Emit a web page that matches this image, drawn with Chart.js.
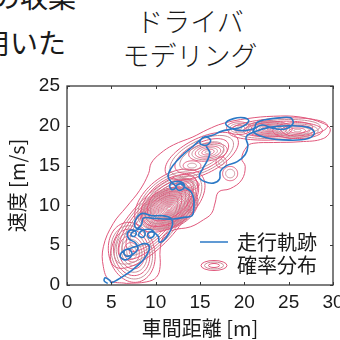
<!DOCTYPE html>
<html>
<head>
<meta charset="utf-8">
<script src="https://cdn.jsdelivr.net/npm/chart.js@4.4.0/dist/chart.umd.min.js"></script>
<style>
  html, body { margin: 0; padding: 0; width: 340px; height: 340px; overflow: hidden; background: #fff; }
  #wrap { position: absolute; left: 0; top: 0; width: 360px; height: 340px; }
  .jp { position: absolute; font-family: "Noto Sans CJK JP", sans-serif; color: #1a1a1a; white-space: nowrap; }
</style>
</head>
<body>
<div class="jp" style="left:-8px; top:-27px; font-size:28px; line-height:46px;">の収集</div>
<div class="jp" style="left:-18px; top:19px; font-size:28px; line-height:46px;">用いた</div>
<div class="jp" style="left:90px; top:4px; width:200px; text-align:center; font-size:27px; line-height:34px; font-weight:300;">ドライバ<br>モデリング</div>
<div id="wrap"><canvas id="chart" width="360" height="340"></canvas></div>
<script>
const xTicks = [0, 5, 10, 15, 20, 25, 30];
const yTicks = [0, 5, 10, 15, 20, 25];
const xTitle = '車間距離 [m]';
const yTitle = '速度 [m/s]';
const legendLabels = ['走行軌跡', '確率分布'];

// driving trajectory (gap [m], speed [m/s])
const trackX = [4.6, 4.2, 4.3, 4.8, 5.0, 5.6, 6.5, 7.5, 8.4, 9.0, 9.3,
  8.8, 7.9, 7.1, 6.4, 6.0, 6.2, 6.8, 7.3, 7.2, 6.7, 6.4, 6.8, 7.5, 8.0, 7.7,
  7.0, 6.8, 7.3, 7.8, 7.6, 7.2, 7.6, 8.3, 8.8, 8.6, 8.1, 8.4, 9.1, 9.7, 9.8, 9.3, 9.1, 9.6, 10.3, 10.4, 10.9, 11.5, 11.9, 11.7, 10.8, 9.6, 8.5, 7.9, 7.6, 7.9, 8.4, 8.6, 9.5,
  10.8, 12.0, 13.2, 14.1, 14.3, 14.3, 14.0,
  13.4, 12.8, 12.3, 12.6, 13.2, 13.1, 12.3, 11.6, 11.8, 12.3, 11.8, 11.4, 11.7, 12.4, 13.3, 14.2, 15.0,
  15.6, 16.2, 15.8, 15.0, 15.3, 16.4, 17.4, 18.6,
  19.6, 20.5, 20.0, 18.8, 17.9, 18.7, 20.0, 21.1, 21.4, 22.5, 24.0, 25.2, 25.5, 24.6, 23.2, 22.0, 21.0, 22.5, 25.0, 27.2, 27.9, 27.2, 25.0, 22.8, 21.0, 20.2,
  20.4, 20.1, 19.2, 18.0, 17.3, 17.2, 16.5, 15.5, 14.9, 15.3, 15.8, 16.1, 15.7];
const trackY = [0.2, 0.5, 0.9, 0.6, 0.3, 0.6, 1.2, 2.0, 2.9, 3.8, 4.8,
  5.2, 4.9, 4.6, 4.3, 3.8, 3.3, 3.2, 3.7, 4.3, 4.5, 4.0, 3.6, 3.9, 4.6, 5.3,
  5.8, 6.5, 6.9, 6.6, 6.1, 6.3, 6.8, 7.0, 6.6, 6.0, 6.2, 6.8, 7.0, 6.8, 6.2, 5.9, 6.4, 6.7, 6.1, 5.4, 5.6, 6.5, 7.6, 8.4, 8.7, 8.7, 9.0, 8.5, 7.6, 7.1, 7.6, 8.4, 8.4,
  8.3, 8.3, 8.5, 8.7, 9.6, 10.8, 11.7,
  12.2, 12.7, 12.4, 11.9, 12.2, 12.8, 13.0, 12.6, 12.0, 12.3, 12.9, 13.6, 14.6, 15.6, 16.6, 17.4, 18.2,
  18.6, 18.2, 17.6, 17.8, 18.5, 18.8, 19.3, 19.6,
  19.8, 20.6, 21.0, 20.9, 20.3, 19.6, 19.4, 19.7, 20.4, 20.8, 21.0, 21.0, 20.3, 19.6, 19.7, 20.1, 19.3, 18.5, 18.2, 18.4, 19.1, 19.8, 20.0, 19.8, 19.2, 18.6,
  17.5, 16.4, 15.5, 15.0, 14.3, 13.3, 12.8, 13.0, 13.6, 14.6, 15.6, 16.6, 17.4];

// outermost density contour
const envelopeX = [6.7, 4.8, 4.1, 4.1, 5.2, 6.7, 8.2, 9.2, 9.5, 10.5, 12.0, 14.2, 15.8, 17.6, 20.3, 23.3, 26.3, 28.9, 29.7, 28.9, 26.3, 23.3, 21.0, 20.3, 19.7, 20.1, 19.7, 18.4, 17.1, 16.7, 16.3, 15.4, 13.9, 12.0, 10.9, 10.5, 10.5, 10.1, 9.0, 6.7];
const envelopeY = [0.2, 0.6, 2.3, 4.8, 7.7, 9.8, 11.9, 14.0, 15.3, 16.5, 17.6, 18.6, 19.5, 20.3, 20.9, 21.2, 21.1, 20.3, 19.5, 18.4, 18.0, 17.9, 17.8, 17.4, 15.9, 14.9, 13.2, 12.1, 11.7, 10.3, 9.0, 8.2, 7.3, 6.9, 6.1, 4.4, 2.3, 1.0, 0.4, 0.2];

// inner contour groups: centre, semi-axes (data units), tilt, ring count, innermost ring scale
const blobX = [7.3, 9.8, 11.5, 11.6, 13.6, 15.9, 15.2, 23.8, 22.8, 26.0, 19.4, 18.4, 17.4, 14.1];
const blobY = [4.1, 8.0, 9.6, 10.6, 12.6, 16.7, 16.2, 19.6, 19.6, 19.4, 19.7, 14.0, 15.4, 15.0];
const blobRx = [2.6, 7.2, 3.5, 4.8, 1.3, 2.2, 4.6, 5.6, 2.6, 2.8, 1.4, 0.85, 0.6, 1.0];
const blobRy = [3.8, 2.7, 2.4, 2.9, 0.7, 1.1, 2.2, 1.35, 1.0, 1.0, 0.8, 0.9, 0.7, 0.6];
const blobAngle = [10, 52, 30, 45, 0, 10, 30, 4, 0, 0, 0, 0, 0, 0];
const blobRings = [9, 6, 22, 6, 4, 6, 4, 3, 9, 6, 4, 2, 2, 2];
const blobInner = [0.1, 0.55, 0.05, 0.55, 0.3, 0.15, 0.6, 0.7, 0.1, 0.15, 0.2, 0.6, 0.5, 0.5];

const PINK = 'rgb(224, 88, 124)';
const PINK_GRAY = 'rgb(200, 140, 152)';
const BLUE = 'rgb(43, 121, 198)';
const TEXT = '#1a1a1a';

function toPoints(xs, ys) {
  return xs.map((v, i) => ({ x: v, y: ys[i] }));
}

const contourPlugin = {
  id: 'contours',
  beforeDatasetsDraw(chart) {
    const { ctx, chartArea, scales: { x, y } } = chart;
    ctx.save();
    ctx.beginPath();
    ctx.rect(chartArea.left, chartArea.top, chartArea.width, chartArea.height);
    ctx.clip();
    ctx.lineWidth = 1;
    blobX.forEach((cx, i) => {
      const n = blobRings[i];
      const a = blobAngle[i] * Math.PI / 180;
      for (let k = 0; k < n; k++) {
        const s = n === 1 ? 1 : 1 - k * (1 - blobInner[i]) / (n - 1);
        const rx = blobRx[i] * s, ry = blobRy[i] * s;
        ctx.beginPath();
        for (let j = 0; j <= 72; j++) {
          const t = j / 72 * Math.PI * 2;
          const ex = rx * Math.cos(t), ey = ry * Math.sin(t);
          const px = x.getPixelForValue(cx + ex * Math.cos(a) - ey * Math.sin(a));
          const py = y.getPixelForValue(blobY[i] + ex * Math.sin(a) + ey * Math.cos(a));
          if (j) ctx.lineTo(px, py); else ctx.moveTo(px, py);
        }
        ctx.closePath();
        ctx.strokeStyle = k % 2 ? PINK_GRAY : PINK;
        ctx.stroke();
      }
    });
    ctx.restore();
  },
  afterDatasetsDraw(chart) {
    const { ctx, chartArea: ca, scales: { x, y } } = chart;
    ctx.save();
    // frame with inward ticks
    ctx.strokeStyle = '#3a3a3a';
    ctx.lineWidth = 1.3;
    ctx.strokeRect(ca.left, ca.top, ca.width, ca.height);
    ctx.lineWidth = 1;
    ctx.beginPath();
    xTicks.forEach(v => {
      const px = Math.round(x.getPixelForValue(v)) + 0.5;
      ctx.moveTo(px, ca.bottom); ctx.lineTo(px, ca.bottom - 3);
      ctx.moveTo(px, ca.top); ctx.lineTo(px, ca.top + 3);
    });
    yTicks.forEach(v => {
      const py = Math.round(y.getPixelForValue(v)) + 0.5;
      ctx.moveTo(ca.left, py); ctx.lineTo(ca.left + 3, py);
      ctx.moveTo(ca.right, py); ctx.lineTo(ca.right - 3, py);
    });
    ctx.stroke();

    // legend
    ctx.strokeStyle = BLUE;
    ctx.lineWidth = 1.5;
    ctx.beginPath();
    ctx.moveTo(200, 242); ctx.lineTo(228, 242);
    ctx.stroke();
    ctx.lineWidth = 1;
    [[13, 5], [9.5, 3.5], [5.5, 2]].forEach(([rx, ry], k) => {
      ctx.strokeStyle = k % 2 ? PINK_GRAY : PINK;
      ctx.beginPath();
      ctx.ellipse(214, 265.5, rx, ry, 0, 0, Math.PI * 2);
      ctx.stroke();
    });
    ctx.fillStyle = TEXT;
    ctx.font = '20px "Noto Sans CJK JP"';
    ctx.textBaseline = 'middle';
    ctx.fillText(legendLabels[0], 237, 242);
    ctx.fillText(legendLabels[1], 237, 265);
    ctx.restore();
  }
};

const tickFont = { family: '"Liberation Sans", Arial, sans-serif', size: 19 };
const titleFont = { family: '"Noto Sans CJK JP", sans-serif', size: 20 };

new Chart(document.getElementById('chart'), {
  type: 'scatter',
  data: {
    datasets: [
      {
        label: legendLabels[0],
        data: toPoints(trackX, trackY),
        showLine: true,
        borderColor: BLUE,
        borderWidth: 1.6,
        pointRadius: 0,
        tension: 0.4,
        fill: false
      },
      {
        label: legendLabels[1],
        data: toPoints(envelopeX, envelopeY),
        showLine: true,
        borderColor: PINK,
        borderWidth: 1,
        pointRadius: 0,
        tension: 0.4,
        fill: false
      }
    ]
  },
  options: {
    responsive: false,
    animation: false,
    devicePixelRatio: 1,
    layout: { padding: { left: 0, right: 27, top: 86, bottom: 0 } },
    plugins: {
      legend: { display: false },
      tooltip: { enabled: false }
    },
    scales: {
      x: {
        type: 'linear',
        min: 0,
        max: 30,
        afterBuildTicks: s => { s.ticks = xTicks.map(v => ({ value: v })); },
        afterFit: s => { s.height = 55; },
        grid: { display: false, drawTicks: false },
        border: { display: false },
        ticks: { font: tickFont, color: TEXT, padding: 6, maxRotation: 0 },
        title: { display: true, text: xTitle, font: titleFont, color: TEXT, padding: { top: 0, bottom: 0 } }
      },
      y: {
        type: 'linear',
        min: 0,
        max: 25,
        afterBuildTicks: s => { s.ticks = yTicks.map(v => ({ value: v })); },
        afterFit: s => { s.width = 67; },
        grid: { display: false, drawTicks: false },
        border: { display: false },
        ticks: { font: tickFont, color: TEXT, padding: 7 },
        title: { display: true, text: yTitle, font: titleFont, color: TEXT, padding: { top: 5, bottom: 0 } }
      }
    }
  },
  plugins: [contourPlugin]
});
</script>
</body>
</html>
